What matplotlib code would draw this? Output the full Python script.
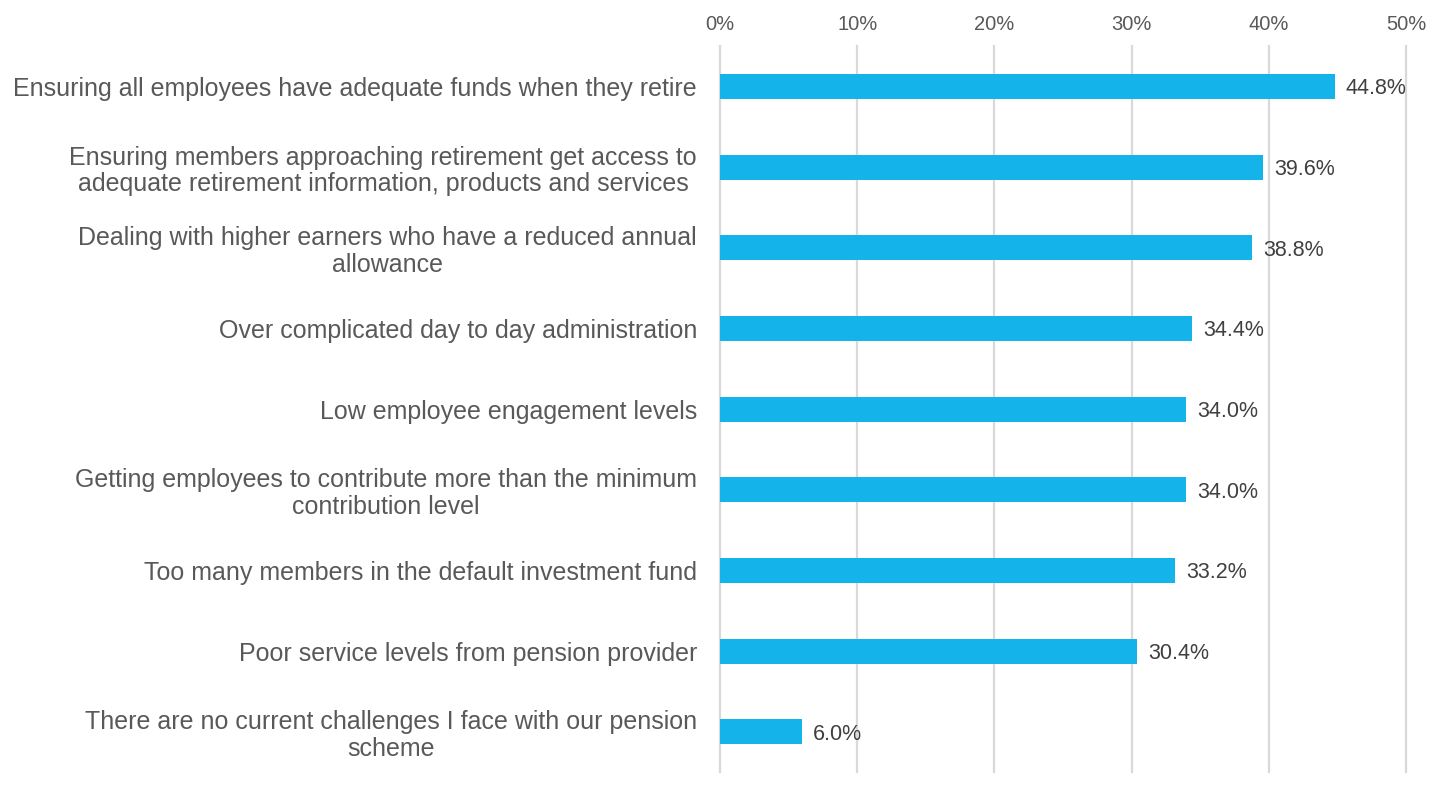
import matplotlib.pyplot as plt
from matplotlib.ticker import FuncFormatter

categories = [
    "Ensuring all employees have adequate funds when they retire",
    "Ensuring members approaching retirement get access to\nadequate retirement information, products and services",
    "Dealing with higher earners who have a reduced annual\nallowance",
    "Over complicated day to day administration",
    "Low employee engagement levels",
    "Getting employees to contribute more than the minimum\ncontribution level",
    "Too many members in the default investment fund",
    "Poor service levels from pension provider",
    "There are no current challenges I face with our pension\nscheme",
]
values = [44.8, 39.6, 38.8, 34.4, 34.0, 34.0, 33.2, 30.4, 6.0]
x_ticks = [0, 10, 20, 30, 40, 50]

plt.rcParams["font.family"] = ["Liberation Sans", "DejaVu Sans"]

fig = plt.figure(figsize=(14.48, 7.95), dpi=100)
ax = fig.add_axes([0.4972, 0.0289, 0.4738, 0.9132])

pos = list(range(len(categories)))
ax.barh(pos, values, height=0.31, color="#14B4EB", zorder=3)

for y, v in zip(pos, values):
    ax.text(v + 0.8, y + 0.03, f"{v:.1f}%", va="center", ha="left",
            fontsize=15.5, color="#404040")

ax.set_xlim(0, 50)
ax.set_ylim(len(categories) - 0.5, -0.5)
ax.set_xticks(x_ticks)
ax.xaxis.set_major_formatter(FuncFormatter(lambda x, _: f"{x:.0f}%"))
ax.xaxis.tick_top()
ax.tick_params(axis="x", length=0, pad=8.5, labelsize=14.5, labelcolor="#595959")
ax.set_yticks(pos)
ax.set_yticklabels(categories, fontsize=18, color="#595959",
                   multialignment="center", linespacing=1.15)
ax.tick_params(axis="y", length=0, pad=16.5)

ax.grid(axis="x", color="#D9D9D9", linewidth=1.6, zorder=0)
for gl in ax.get_xgridlines():
    gl.set_clip_on(False)
for s in ax.spines.values():
    s.set_visible(False)

fig.savefig("out.png", dpi=100)
plt.close(fig)
